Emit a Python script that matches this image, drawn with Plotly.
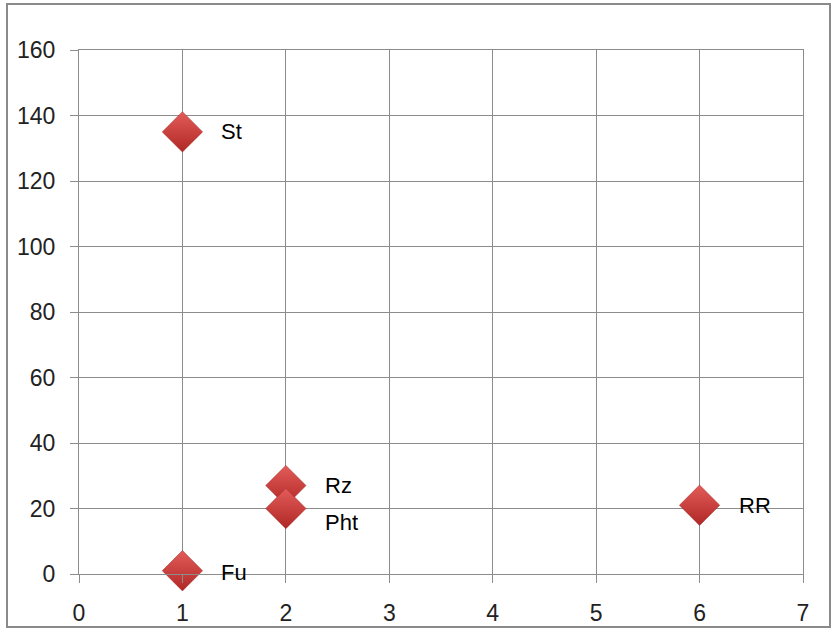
import plotly.graph_objects as go

# Data points
names = ["St", "Rz", "Pht", "Fu", "RR"]
x_vals = [1, 2, 2, 1, 6]
y_vals = [135, 27, 20, 1, 21]
label_dy = [0, 0, -14, -2, 0]

x_ticks = [0, 1, 2, 3, 4, 5, 6, 7]
y_ticks = [0, 20, 40, 60, 80, 100, 120, 140, 160]

fig = go.Figure()
fig.add_trace(go.Scatter(
    x=x_vals, y=y_vals, mode="markers", cliponaxis=False,
    marker=dict(symbol="diamond", size=31, color="#e25c5a",
                gradient=dict(type="vertical", color="#b02826"),
                line=dict(width=0.5, color="#a02220")),
    hoverinfo="text", text=names, showlegend=False,
))

for n, xv, yv, dy in zip(names, x_vals, y_vals, label_dy):
    fig.add_annotation(x=xv, y=yv, text=n, showarrow=False, xanchor="left",
                       xshift=37, yshift=dy,
                       font=dict(family="Liberation Sans, Arial", size=22, color="#000"))

axis_common = dict(showgrid=True, gridcolor="#8c8c8c", gridwidth=1,
                   showline=True, linecolor="#8c8c8c", linewidth=1,
                   ticks="outside", ticklen=8, tickcolor="#8c8c8c",
                   zeroline=False, mirror=True, automargin=False,
                   tickfont=dict(family="Liberation Sans, Arial", size=23, color="#222"))

fig.update_xaxes(range=[0, 7], tickvals=x_ticks, ticklabelstandoff=10, **axis_common)
fig.update_yaxes(range=[0, 160], tickvals=y_ticks, ticklabelstandoff=10, **axis_common)

# outer chart border
W, H = 835, 629
ml, mr, mt, mb = 79, 32, 50, 55
pw, ph = W - ml - mr, H - mt - mb
fig.add_shape(type="rect", xref="paper", yref="paper", layer="below",
              x0=(7 - ml) / pw, x1=(830 - ml) / pw,
              y0=(H - mb - 627) / ph, y1=(H - mb - 4) / ph,
              line=dict(color="#8a8a8a", width=2), fillcolor="rgba(0,0,0,0)")

fig.update_layout(width=W, height=H, margin=dict(l=ml, r=mr, t=mt, b=mb, autoexpand=False),
                  plot_bgcolor="white", paper_bgcolor="white")

fig.write_html("out.html")
